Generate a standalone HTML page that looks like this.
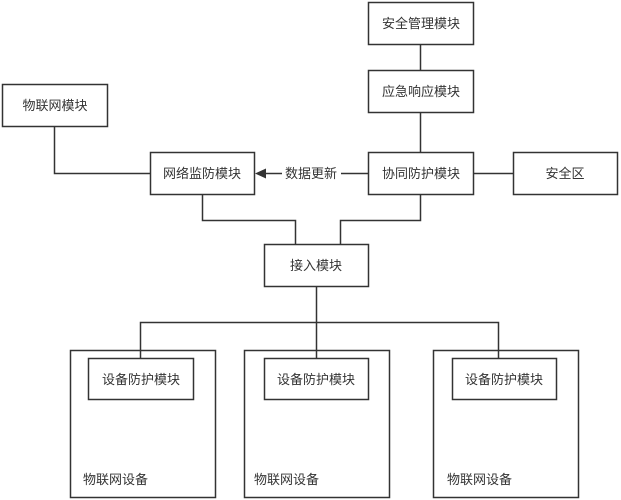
<!DOCTYPE html>
<html><head><meta charset="utf-8"><style>
html,body{margin:0;padding:0;background:#fff;}
svg{display:block;}
text{font-family:"Liberation Sans","Noto Sans CJK SC",sans-serif;font-size:13px;fill:#333;}
</style></head><body>
<svg width="621" height="500" viewBox="0 0 621 500" xmlns="http://www.w3.org/2000/svg">
<g fill="#fff" stroke="#333" stroke-width="1.5">
<rect x="368.5" y="2.5" width="105" height="42"/>
<rect x="368.5" y="70.5" width="105" height="42"/>
<rect x="2.5" y="84.5" width="105" height="42"/>
<rect x="150.5" y="152.5" width="104" height="42"/>
<rect x="368.5" y="152.5" width="105" height="42"/>
<rect x="513.5" y="152.5" width="104" height="42"/>
<rect x="264.5" y="244.5" width="104" height="42"/>
<rect x="70.5" y="350.5" width="145" height="147"/>
<rect x="244.5" y="350.5" width="145" height="147"/>
<rect x="433.5" y="350.5" width="145" height="147"/>
<rect x="88.5" y="358.5" width="105" height="41"/>
<rect x="264.5" y="358.5" width="104" height="41"/>
<rect x="452.5" y="358.5" width="104" height="41"/>
</g>
<g fill="none" stroke="#333" stroke-width="1.5">
<path d="M420.5 44.5V70.5M420.5 112.5V152.5M473.5 173.5H513.5"/>
<path d="M54.5 126.5V173.5H150.5"/>
<path d="M368.5 173.5H341M282 173.5H262"/>
<path d="M202.5 194.5V220.5H295.5V244.5M420.5 194.5V220.5H340.5V244.5"/>
<path d="M316.5 286.5V358.5M140.5 358.5V322.5H498.5V358.5"/>
</g>
<polygon points="255,173.5 266,168.5 266,178.5" fill="#333"/>
<g text-anchor="middle">
<text x="421" y="28">安全管理模块</text>
<text x="421" y="96">应急响应模块</text>
<text x="55" y="110">物联网模块</text>
<text x="202" y="178">网络监防模块</text>
<text x="311" y="178">数据更新</text>
<text x="421" y="178">协同防护模块</text>
<text x="565" y="178">安全区</text>
<text x="316" y="270">接入模块</text>
<text x="141" y="384">设备防护模块</text>
<text x="316" y="384">设备防护模块</text>
<text x="504" y="384">设备防护模块</text>
</g>
<text x="83" y="484">物联网设备</text>
<text x="254" y="484">物联网设备</text>
<text x="447" y="484">物联网设备</text>
</svg>
</body></html>
